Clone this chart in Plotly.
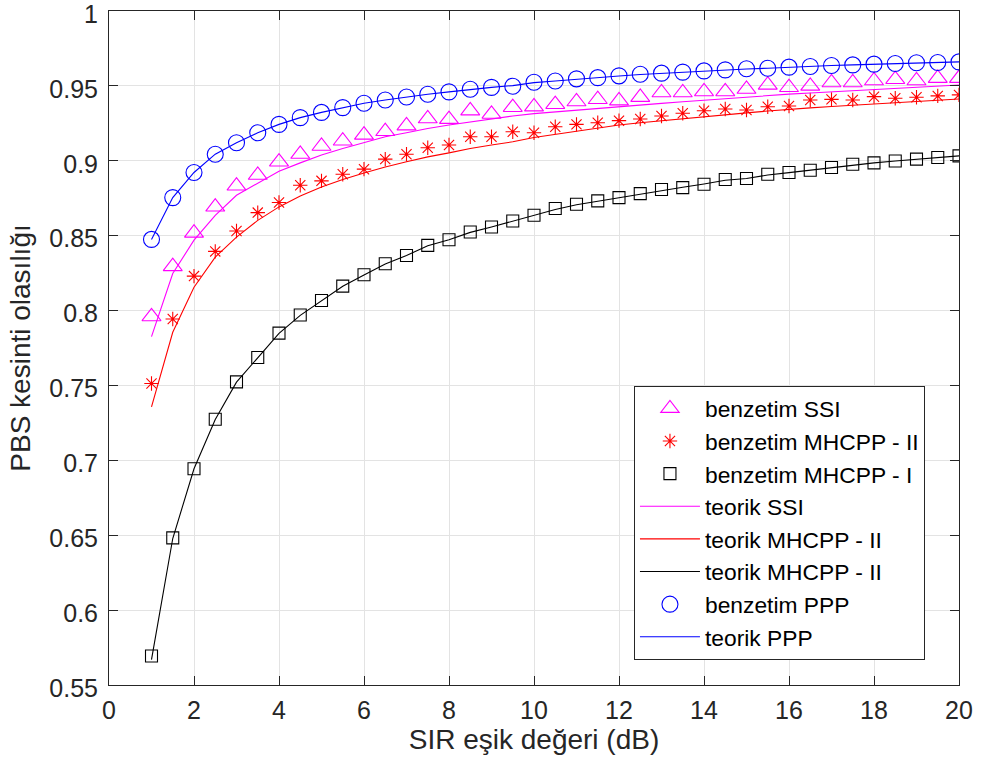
import plotly.graph_objects as go

x = [1 + 0.5 * i for i in range(39)]

sim_ssi = [0.796, 0.8294, 0.8518, 0.8692, 0.8832, 0.8904, 0.8993, 0.9044, 0.9098, 0.9133,
           0.9172, 0.9196, 0.9234, 0.9281, 0.9277, 0.9334, 0.9312, 0.9357, 0.9361, 0.9377,
           0.9395, 0.941, 0.9401, 0.9424, 0.9455, 0.9455, 0.9462, 0.9462, 0.9478, 0.9506,
           0.949, 0.9499, 0.9522, 0.9522, 0.9535, 0.9544, 0.9535, 0.9551, 0.9551]
sim_mh2 = [0.7513, 0.7944, 0.823, 0.8395, 0.8531, 0.8654, 0.8721, 0.8837, 0.8866, 0.891,
           0.8944, 0.9011, 0.9044, 0.9087, 0.9105, 0.916, 0.916, 0.9194, 0.9187, 0.9227,
           0.9243, 0.9254, 0.9268, 0.9279, 0.9299, 0.9317, 0.9334, 0.9346, 0.9339, 0.9361,
           0.9366, 0.9406, 0.941, 0.9406, 0.9428, 0.9417, 0.9424, 0.9433, 0.944]
sim_mh1 = [0.5694, 0.6482, 0.6944, 0.7274, 0.7524, 0.7687, 0.7849, 0.797, 0.8067, 0.8163,
           0.8239, 0.8312, 0.8368, 0.8435, 0.8473, 0.8524, 0.8558, 0.8598, 0.8636, 0.8681,
           0.871, 0.8732, 0.8754, 0.8781, 0.8808, 0.8821, 0.8843, 0.8875, 0.8882, 0.891,
           0.8922, 0.8937, 0.8955, 0.8977, 0.8986, 0.8999, 0.9011, 0.9022, 0.9033]
sim_ppp = [0.8475, 0.8754, 0.8922, 0.9044, 0.912, 0.9187, 0.9243, 0.9288, 0.9323, 0.9355,
           0.9384, 0.9406, 0.9426, 0.9444, 0.946, 0.9478, 0.949, 0.9498, 0.9524, 0.9533,
           0.9547, 0.9555, 0.9567, 0.9578, 0.9585, 0.9592, 0.96, 0.9607, 0.9614, 0.9618,
           0.9625, 0.9629, 0.9636, 0.964, 0.9645, 0.9649, 0.9654, 0.9656, 0.966]

th_ssi = [0.7826, 0.8247, 0.847, 0.8636, 0.877, 0.8852, 0.893, 0.8986, 0.9038, 0.9082,
          0.912, 0.916, 0.9187, 0.9216, 0.9239, 0.926, 0.9279, 0.9299, 0.9315, 0.9327,
          0.9339, 0.935, 0.936, 0.9372, 0.9383, 0.9394, 0.9405, 0.9416, 0.9426, 0.9436,
          0.9445, 0.9453, 0.9461, 0.9469, 0.9477, 0.9485, 0.9492, 0.9499, 0.9506]
th_mh2 = [0.7357, 0.7855, 0.8156, 0.8357, 0.849, 0.8602, 0.8692, 0.8765, 0.8825, 0.8875,
          0.8919, 0.8959, 0.8993, 0.9026, 0.9053, 0.9082, 0.9105, 0.9127, 0.9155, 0.9177,
          0.9198, 0.9219, 0.9239, 0.9254, 0.9268, 0.9281, 0.9294, 0.9307, 0.932, 0.9332,
          0.9344, 0.9353, 0.9362, 0.9371, 0.9379, 0.9388, 0.9396, 0.9404, 0.9412]
th_mh1 = [0.567, 0.6478, 0.6944, 0.7272, 0.7522, 0.7688, 0.7848, 0.7968, 0.8066, 0.8162,
          0.8238, 0.8311, 0.8368, 0.8433, 0.8473, 0.8522, 0.8558, 0.8598, 0.8636, 0.8675,
          0.8706, 0.873, 0.8754, 0.8779, 0.8804, 0.8823, 0.8845, 0.887, 0.8882, 0.8905,
          0.8921, 0.8937, 0.8955, 0.8974, 0.8986, 0.8999, 0.9011, 0.9022, 0.9033]
th_ppp = [0.8475, 0.8754, 0.8922, 0.9044, 0.912, 0.9187, 0.9243, 0.9288, 0.9323, 0.9355,
          0.9384, 0.9406, 0.9426, 0.9444, 0.946, 0.9476, 0.949, 0.9502, 0.9522, 0.9533,
          0.9545, 0.9555, 0.9566, 0.9576, 0.9584, 0.9592, 0.96, 0.9607, 0.9613, 0.9618,
          0.9625, 0.963, 0.9636, 0.964, 0.9645, 0.9649, 0.9653, 0.9656, 0.966]

x_ticks = [0, 2, 4, 6, 8, 10, 12, 14, 16, 18, 20]
y_ticks = [0.55, 0.6, 0.65, 0.7, 0.75, 0.8, 0.85, 0.9, 0.95, 1.0]
y_tick_labels = ["0.55", "0.6", "0.65", "0.7", "0.75", "0.8", "0.85", "0.9", "0.95", "1"]

MAG, RED, BLK, BLU = "#ff00ff", "#ff0000", "#000000", "#0000ff"

fig = go.Figure()

def mk(name, y, color, symbol, size):
    fig.add_trace(go.Scatter(x=x, y=y, name=name, mode="markers",
                             marker=dict(symbol=symbol, size=size, color=color,
                                         line=dict(color=color, width=1.1))))

def ln(name, y, color):
    fig.add_trace(go.Scatter(x=x, y=y, name=name, mode="lines",
                             line=dict(color=color, width=1.1)))

mk("benzetim SSI", sim_ssi, MAG, "triangle-up-open", 16.5)
mk("benzetim MHCPP - II", sim_mh2, RED, "asterisk-open", 12)
mk("benzetim MHCPP - I", sim_mh1, BLK, "square-open", 12)
ln("teorik SSI", th_ssi, MAG)
ln("teorik MHCPP - II", th_mh2, RED)
ln("teorik MHCPP - II", th_mh1, BLK)
mk("benzetim PPP", sim_ppp, BLU, "circle-open", 16)
ln("teorik PPP", th_ppp, BLU)

axis_common = dict(showgrid=True, gridcolor="#e3e3e3", gridwidth=1,
                   showline=True, linecolor="#262626", linewidth=1,
                   mirror="allticks", ticks="inside", ticklen=9, tickcolor="#262626",
                   zeroline=False, automargin=False, ticklabeloverflow="allow",
                   tickfont=dict(size=25, color="#262626"))

fig.update_layout(
    width=981, height=773,
    margin=dict(l=109, r=22, t=11, b=88),
    paper_bgcolor="white", plot_bgcolor="white",
    font=dict(family="Liberation Sans, Arial, sans-serif", color="#262626"),
    xaxis=dict(range=[0, 20], tickvals=x_ticks, ticklabelstandoff=3,
               title=dict(text="SIR eşik değeri (dB)", font=dict(size=28, color="#262626"), standoff=6),
               **axis_common),
    yaxis=dict(range=[0.55, 1.0], tickvals=y_ticks, ticktext=y_tick_labels,
               ticklabelstandoff=5, ticklabelshift=3,
               title=dict(text="PBS kesinti olasılığı", font=dict(size=28, color="#262626"), standoff=10),
               **axis_common),
    legend=dict(x=0.6176, y=0.4436, xanchor="left", yanchor="top",
                bgcolor="white", bordercolor="#262626", borderwidth=1,
                font=dict(size=22.8, color="#000000"), itemwidth=60,
                tracegroupgap=0),
    showlegend=True,
)

fig.write_html("out.html", config={"displayModeBar": False},
               post_script="document.body.style.margin='0';")
